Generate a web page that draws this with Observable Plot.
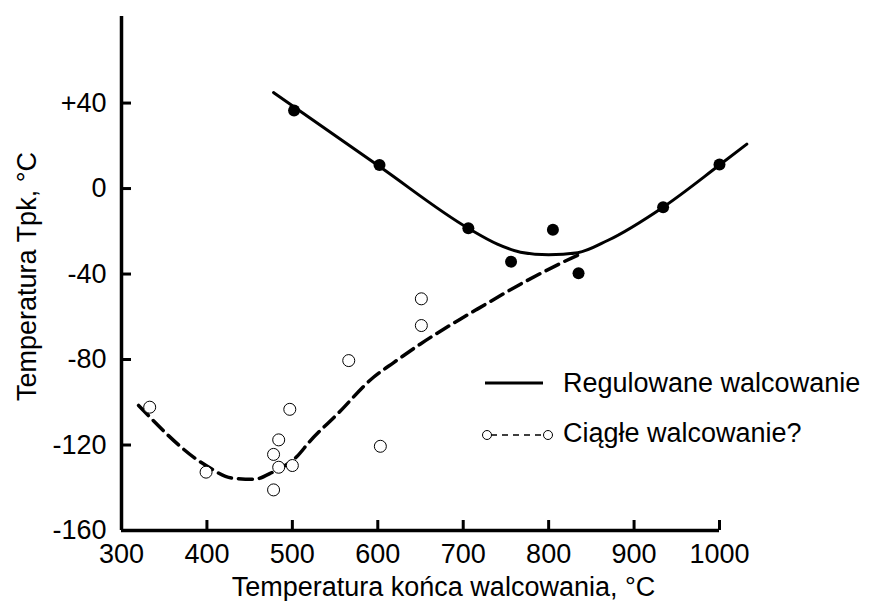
<!DOCTYPE html>
<html>
<head>
<meta charset="utf-8">
<script src="https://cdn.jsdelivr.net/npm/d3@7"></script>
<script src="https://cdn.jsdelivr.net/npm/@observablehq/plot@0.6"></script>
<style>
  html, body { margin: 0; padding: 0; background: white; }
  #chart { width: 872px; height: 601px; }
</style>
</head>
<body>
<div id="chart"></div>
<script>
// Tick values
const xTicks = [300, 400, 500, 600, 700, 800, 900, 1000];
const yTicks = [-160, -120, -80, -40, 0, 40];

// Regulowane walcowanie – measured points (filled)
const regX = [502, 602, 706, 756, 805, 835, 934, 1000];
const regY = [36.5, 11, -18.6, -34.2, -19.3, -39.6, -8.7, 11.2];

// Regulowane walcowanie – fitted curve (solid)
const regCurveX = [478, 602, 706, 740, 767, 800, 834, 869, 934, 1000, 1032];
const regCurveY = [44.9, 10.3, -18.6, -26, -29.8, -31, -30, -24.3, -8.7, 11, 20.8];

// Ciągłe walcowanie – measured points (open)
const ciagX = [333, 399, 478, 478, 484, 484, 500, 497, 566, 603, 651, 651];
const ciagY = [-102.3, -132.7, -141, -124.4, -117.6, -130.4, -129.6, -103.3, -80.5, -120.6, -64.1, -51.6];

// Ciągłe walcowanie – fitted curve (dashed)
const ciagCurveX = [320, 399, 430, 455, 478, 492, 505, 520, 553, 595, 619, 650, 697, 717, 775, 814, 835];
const ciagCurveY = [-101.5, -129.6, -135.5, -136, -132.5, -129.5, -125.5, -118.5, -105.4, -88.3, -81.3, -72.7, -61, -56.3, -43, -35, -31];

const legendLabels = ["Regulowane walcowanie", "Ciągłe walcowanie?"];
const xLabel = "Temperatura końca walcowania, °C";
const yLabel = "Temperatura Tpk, °C";

const regPts = regX.map((x, i) => ({x, y: regY[i]}));
const regCurve = regCurveX.map((x, i) => ({x, y: regCurveY[i]}));
const ciagPts = ciagX.map((x, i) => ({x, y: ciagY[i]}));
const ciagCurve = ciagCurveX.map((x, i) => ({x, y: ciagCurveY[i]}));

const W = 872, H = 601;
const mL = 121, mR = 153, mT = 16, mB = 71;
const frameW = W - mL - mR, frameH = H - mT - mB;
const font = "'Liberation Sans', Arial, Helvetica, sans-serif";
const fs = 27;

const svg = Plot.plot({
  width: W, height: H,
  marginLeft: mL, marginRight: mR, marginTop: mT, marginBottom: mB,
  x: {domain: [300, 1000]},
  y: {domain: [-160, 80.5]},
  style: {fontFamily: font, fontSize: fs + "px", color: "black", background: "white"},
  marks: [
    Plot.axisX(xTicks, {tickSize: 0, tickPadding: 13, fontSize: fs, label: null, tickFormat: d => String(d)}),
    Plot.axisY(yTicks, {tickSize: 0, tickPadding: 15, fontSize: fs, label: null,
      tickFormat: d => d > 0 ? "+" + d : String(d)}),
    Plot.tickX(xTicks, {x: d => d, insetTop: frameH - 10, strokeWidth: 3}),
    Plot.tickY(yTicks, {y: d => d, insetRight: frameW - 10, strokeWidth: 3}),
    Plot.ruleX([300], {strokeWidth: 3.5}),
    Plot.ruleY([-160], {strokeWidth: 3.5}),
    Plot.line(regCurve, {x: "x", y: "y", curve: "monotone-x", stroke: "black", strokeWidth: 3}),
    Plot.line(ciagCurve, {x: "x", y: "y", curve: "monotone-x", stroke: "black", strokeWidth: 3.5, strokeDasharray: "14,7"}),
    Plot.dot(regPts, {x: "x", y: "y", r: 6, fill: "black", stroke: "none"}),
    Plot.dot(ciagPts, {x: "x", y: "y", r: 6, fill: "white", stroke: "black", strokeWidth: 1}),
    Plot.text([xLabel], {frameAnchor: "bottom", textAnchor: "middle", dx: 23, dy: 65, lineAnchor: "bottom", fontSize: fs}),
    Plot.text([yLabel], {frameAnchor: "left", textAnchor: "middle", dx: -86, dy: 3, rotate: -90, lineAnchor: "bottom", fontSize: fs})
  ]
});

// Legend
const s = d3.select(svg);
const g = s.append("g").attr("font-family", font).attr("font-size", fs).attr("fill", "black").attr("text-anchor", "start");
g.append("line").attr("x1", 485).attr("x2", 543).attr("y1", 383).attr("y2", 383)
  .attr("stroke", "black").attr("stroke-width", 3);
g.append("text").attr("x", 563).attr("y", 392).attr("text-anchor", "start").text(legendLabels[0]);
g.append("line").attr("x1", 491).attr("x2", 544).attr("y1", 435).attr("y2", 435)
  .attr("stroke", "black").attr("stroke-width", 1.5).attr("stroke-dasharray", "6,5");
g.append("circle").attr("cx", 487).attr("cy", 435).attr("r", 4.5).attr("fill", "white").attr("stroke", "black").attr("stroke-width", 1);
g.append("circle").attr("cx", 548).attr("cy", 435).attr("r", 4.5).attr("fill", "white").attr("stroke", "black").attr("stroke-width", 1);
g.append("text").attr("x", 563).attr("y", 442).attr("text-anchor", "start").text(legendLabels[1]);

document.getElementById("chart").appendChild(svg);
</script>
</body>
</html>
